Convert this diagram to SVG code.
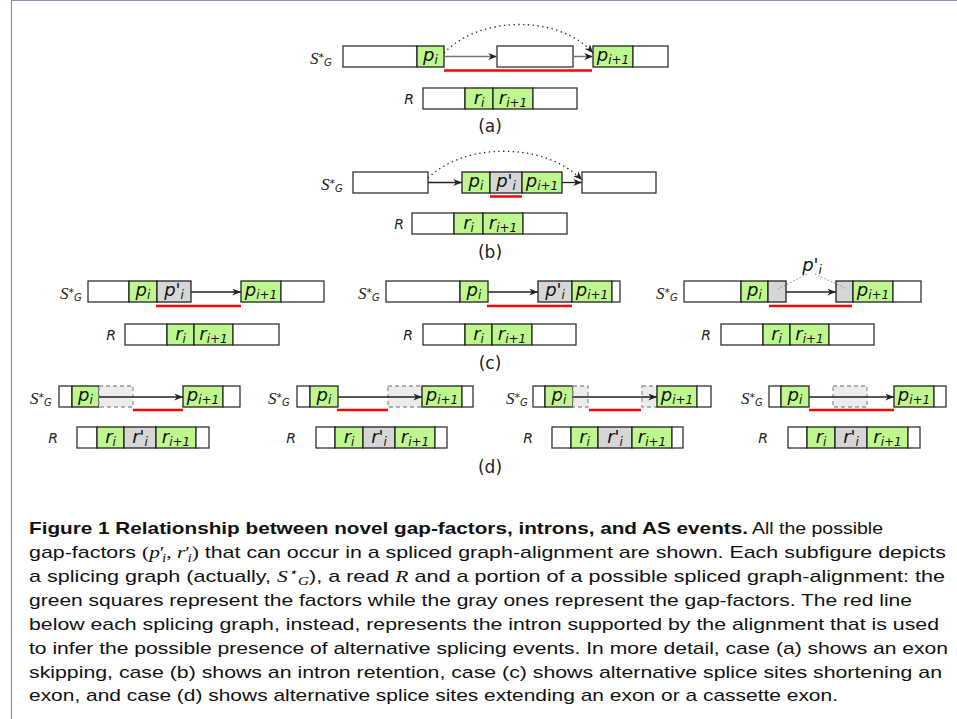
<svg xmlns="http://www.w3.org/2000/svg" width="957" height="719" viewBox="0 0 957 719">
<style>
.w{fill:#fff;stroke:#333;stroke-width:1.3}
.g{fill:#bff78f;stroke:#222;stroke-width:1.3}
.x{fill:#d6d6d6;stroke:#222;stroke-width:1.3}
.dd{fill:#ececec;stroke:#999;stroke-width:1.3;stroke-dasharray:4 3}
.lb{font-family:"DejaVu Sans",sans-serif;font-style:oblique;font-size:18px;fill:#111;text-anchor:middle}
.sb{font-size:12px}
.sg{font-family:"Liberation Serif",serif;font-style:italic;font-size:17px;fill:#222}
.st{font-family:"DejaVu Sans",sans-serif;font-style:normal;font-size:11px}
.sm{font-family:"DejaVu Sans",sans-serif;font-style:oblique;font-size:10px}
.rl{font-family:"DejaVu Sans",sans-serif;font-style:oblique;font-size:14px;fill:#222;text-anchor:middle}
.pl{font-family:"DejaVu Sans",sans-serif;font-size:17px;fill:#222;text-anchor:middle}
.red{stroke:#f00;stroke-width:2.5;fill:none}
.con{stroke:#222;stroke-width:1.3;fill:none;marker-end:url(#ah)}
.cong{stroke:#777;stroke-width:1.5;fill:none;marker-end:url(#ah)}
.dot{stroke:#222;stroke-width:1.3;stroke-dasharray:1.3 3.5;fill:none;marker-end:url(#ah)}
.call{stroke:#888;stroke-width:1;stroke-dasharray:1.5 2;fill:none}
.cap{font-family:"Liberation Sans",sans-serif;font-size:17px;fill:#111}
.capb{font-weight:bold}
.mi{font-family:"Liberation Serif",serif;font-style:italic}
.mt{font-family:"Liberation Serif",serif}
.ms{font-family:"Liberation Serif",serif;font-style:italic;font-size:12px}
.frame{stroke:#7a96c4;stroke-width:1.2;fill:none}
</style>
<defs>
<marker id="ah" viewBox="0 0 10 8" refX="10" refY="4" markerWidth="9" markerHeight="7" markerUnits="userSpaceOnUse" orient="auto"><path d="M0,0 L10,4 L0,8 L3,4 z" fill="#222"/></marker>
</defs>
<rect width="957" height="719" fill="#fff"/>
<path class="frame" d="M11.5,719 V0.5 H957"/>

<!-- (a) -->
<g id="a-label"><text class="sg" x="310" y="64">S<tspan class="st" dy="-3">*</tspan><tspan class="sm" dy="5">G</tspan></text></g>
<g id="a-s1"><rect class="w" x="343" y="46" width="74" height="21"/><rect class="g" x="417" y="46" width="27" height="21"/><text class="lb" x="430.5" y="61">p<tspan class="sb" dy="3">i</tspan></text></g>
<g id="a-s2"><rect class="w" x="497" y="46" width="76" height="21"/></g>
<g id="a-s3"><rect class="g" x="593" y="46" width="40" height="21"/><rect class="w" x="633" y="46" width="35" height="21"/><text class="lb" x="613" y="61">p<tspan class="sb" dy="3">i+1</tspan></text></g>
<g id="a-r"><text class="rl" x="409" y="104">R</text><rect class="w" x="423" y="88" width="42" height="21"/><rect class="g" x="465" y="88" width="28" height="21"/><rect class="g" x="493" y="88" width="40" height="21"/><rect class="w" x="533" y="88" width="44" height="21"/><text class="lb" x="479" y="104">r<tspan class="sb" dy="3">i</tspan></text><text class="lb" x="513" y="104">r<tspan class="sb" dy="3">i+1</tspan></text></g>
<text class="pl" x="490" y="132">(a)</text>

<!-- (b) -->
<g id="b-label"><text class="sg" x="321" y="190">S<tspan class="st" dy="-3">*</tspan><tspan class="sm" dy="5">G</tspan></text></g>
<g id="b-s1"><rect class="w" x="353" y="172" width="75" height="21"/></g>
<g id="b-s2"><rect class="g" x="462" y="172" width="28" height="21"/><rect class="x" x="490" y="172" width="32" height="21"/><rect class="g" x="522" y="172" width="40" height="21"/><text class="lb" x="476" y="187">p<tspan class="sb" dy="3">i</tspan></text><text class="lb" x="506" y="187">p'<tspan class="sb" dy="3">i</tspan></text><text class="lb" x="542" y="187">p<tspan class="sb" dy="3">i+1</tspan></text></g>
<g id="b-s3"><rect class="w" x="582" y="172" width="74" height="21"/></g>
<g id="b-r"><text class="rl" x="399" y="229">R</text><rect class="w" x="412" y="213" width="42" height="21"/><rect class="g" x="454" y="213" width="29" height="21"/><rect class="g" x="483" y="213" width="40" height="21"/><rect class="w" x="523" y="213" width="44" height="21"/><text class="lb" x="468.5" y="229">r<tspan class="sb" dy="3">i</tspan></text><text class="lb" x="503" y="229">r<tspan class="sb" dy="3">i+1</tspan></text></g>
<text class="pl" x="490" y="258">(b)</text>

<!-- (c) left -->
<g id="c1-label"><text class="sg" x="60" y="299">S<tspan class="st" dy="-3">*</tspan><tspan class="sm" dy="5">G</tspan></text></g>
<g id="c1-s1"><rect class="w" x="88" y="281" width="41" height="21"/><rect class="g" x="129" y="281" width="28" height="21"/><rect class="x" x="157" y="281" width="34" height="21"/><text class="lb" x="143" y="296">p<tspan class="sb" dy="3">i</tspan></text><text class="lb" x="174" y="296">p'<tspan class="sb" dy="3">i</tspan></text></g>
<g id="c1-s2"><rect class="g" x="241" y="281" width="40" height="21"/><rect class="w" x="281" y="281" width="43" height="21"/><text class="lb" x="261" y="296">p<tspan class="sb" dy="3">i+1</tspan></text></g>
<g id="c1-r"><text class="rl" x="111" y="340">R</text><rect class="w" x="125" y="324" width="42" height="21"/><rect class="g" x="167" y="324" width="27" height="21"/><rect class="g" x="194" y="324" width="39" height="21"/><rect class="w" x="233" y="324" width="46" height="21"/><text class="lb" x="180.5" y="340">r<tspan class="sb" dy="3">i</tspan></text><text class="lb" x="213.5" y="340">r<tspan class="sb" dy="3">i+1</tspan></text></g>

<!-- (c) middle -->
<g id="c2-label"><text class="sg" x="358" y="299">S<tspan class="st" dy="-3">*</tspan><tspan class="sm" dy="5">G</tspan></text></g>
<g id="c2-s1"><rect class="w" x="386" y="281" width="74" height="21"/><rect class="g" x="460" y="281" width="28" height="21"/><text class="lb" x="474" y="296">p<tspan class="sb" dy="3">i</tspan></text></g>
<g id="c2-s2"><rect class="x" x="538" y="281" width="34" height="21"/><rect class="g" x="572" y="281" width="40" height="21"/><rect class="w" x="612" y="281" width="8" height="21"/><text class="lb" x="555" y="296">p'<tspan class="sb" dy="3">i</tspan></text><text class="lb" x="592" y="296">p<tspan class="sb" dy="3">i+1</tspan></text></g>
<g id="c2-r"><text class="rl" x="408" y="340">R</text><rect class="w" x="423" y="324" width="42" height="21"/><rect class="g" x="465" y="324" width="27" height="21"/><rect class="g" x="492" y="324" width="40" height="21"/><rect class="w" x="532" y="324" width="44" height="21"/><text class="lb" x="478.5" y="340">r<tspan class="sb" dy="3">i</tspan></text><text class="lb" x="512" y="340">r<tspan class="sb" dy="3">i+1</tspan></text></g>
<text class="pl" x="490" y="369">(c)</text>

<!-- (c) right -->
<g id="c3-label"><text class="sg" x="656" y="299">S<tspan class="st" dy="-3">*</tspan><tspan class="sm" dy="5">G</tspan></text></g>
<g id="c3-s1"><rect class="w" x="684" y="281" width="57" height="21"/><rect class="g" x="741" y="281" width="27" height="21"/><rect class="x" x="768" y="281" width="18" height="21"/><text class="lb" x="754.5" y="296">p<tspan class="sb" dy="3">i</tspan></text></g>
<g id="c3-s2"><rect class="x" x="836" y="281" width="17" height="21"/><rect class="g" x="853" y="281" width="40" height="21"/><rect class="w" x="893" y="281" width="28" height="21"/><text class="lb" x="873" y="296">p<tspan class="sb" dy="3">i+1</tspan></text></g>
<g id="c3-callout"><text class="lb" x="812" y="271">p'<tspan class="sb" dy="3">i</tspan></text><path class="call" d="M807,274 L778,289 M815,274 L847,289"/></g>
<g id="c3-r"><text class="rl" x="706" y="340">R</text><rect class="w" x="721" y="324" width="42" height="21"/><rect class="g" x="763" y="324" width="27" height="21"/><rect class="g" x="790" y="324" width="39" height="21"/><rect class="w" x="829" y="324" width="45" height="21"/><text class="lb" x="776.5" y="340">r<tspan class="sb" dy="3">i</tspan></text><text class="lb" x="809.5" y="340">r<tspan class="sb" dy="3">i+1</tspan></text></g>

<!-- (d) 1 -->
<g id="d1-label"><text class="sg" x="30" y="404">S<tspan class="st" dy="-3">*</tspan><tspan class="sm" dy="5">G</tspan></text></g>
<g id="d1-s1"><rect class="w" x="59" y="386" width="13" height="21"/><rect class="g" x="72" y="386" width="27" height="21"/><rect class="dd" x="99" y="386" width="34" height="21"/><text class="lb" x="85.5" y="401">p<tspan class="sb" dy="3">i</tspan></text></g>
<g id="d1-s2"><rect class="g" x="183" y="386" width="40" height="21"/><rect class="w" x="223" y="386" width="17" height="21"/><text class="lb" x="203" y="401">p<tspan class="sb" dy="3">i+1</tspan></text></g>
<g id="d1-r"><text class="rl" x="53" y="443">R</text><rect class="w" x="77" y="427" width="20" height="21"/><rect class="g" x="97" y="427" width="27" height="21"/><rect class="x" x="124" y="427" width="32" height="21"/><rect class="g" x="156" y="427" width="40" height="21"/><rect class="w" x="196" y="427" width="13" height="21"/><text class="lb" x="110.5" y="443">r<tspan class="sb" dy="3">i</tspan></text><text class="lb" x="140" y="443">r'<tspan class="sb" dy="3">i</tspan></text><text class="lb" x="176" y="443">r<tspan class="sb" dy="3">i+1</tspan></text></g>

<!-- (d) 2 -->
<g id="d2-label"><text class="sg" x="268" y="404">S<tspan class="st" dy="-3">*</tspan><tspan class="sm" dy="5">G</tspan></text></g>
<g id="d2-s1"><rect class="w" x="297" y="386" width="13" height="21"/><rect class="g" x="310" y="386" width="28" height="21"/><text class="lb" x="324" y="401">p<tspan class="sb" dy="3">i</tspan></text></g>
<g id="d2-s2"><rect class="dd" x="388" y="386" width="34" height="21"/><rect class="g" x="422" y="386" width="40" height="21"/><rect class="w" x="462" y="386" width="11" height="21"/><text class="lb" x="442" y="401">p<tspan class="sb" dy="3">i+1</tspan></text></g>
<g id="d2-r"><text class="rl" x="291" y="443">R</text><rect class="w" x="316" y="427" width="19" height="21"/><rect class="g" x="335" y="427" width="28" height="21"/><rect class="x" x="363" y="427" width="32" height="21"/><rect class="g" x="395" y="427" width="40" height="21"/><rect class="w" x="435" y="427" width="12" height="21"/><text class="lb" x="349" y="443">r<tspan class="sb" dy="3">i</tspan></text><text class="lb" x="379" y="443">r'<tspan class="sb" dy="3">i</tspan></text><text class="lb" x="415" y="443">r<tspan class="sb" dy="3">i+1</tspan></text></g>

<!-- (d) 3 -->
<g id="d3-label"><text class="sg" x="506" y="404">S<tspan class="st" dy="-3">*</tspan><tspan class="sm" dy="5">G</tspan></text></g>
<g id="d3-s1"><rect class="w" x="533" y="386" width="12" height="21"/><rect class="g" x="545" y="386" width="28" height="21"/><rect class="dd" x="573" y="386" width="15" height="21"/><text class="lb" x="559" y="401">p<tspan class="sb" dy="3">i</tspan></text></g>
<g id="d3-s2"><rect class="dd" x="642" y="386" width="15" height="21"/><rect class="g" x="657" y="386" width="40" height="21"/><rect class="w" x="697" y="386" width="14" height="21"/><text class="lb" x="677" y="401">p<tspan class="sb" dy="3">i+1</tspan></text></g>
<g id="d3-r"><text class="rl" x="528" y="443">R</text><rect class="w" x="552" y="427" width="19" height="21"/><rect class="g" x="571" y="427" width="27" height="21"/><rect class="x" x="598" y="427" width="34" height="21"/><rect class="g" x="632" y="427" width="40" height="21"/><rect class="w" x="672" y="427" width="11" height="21"/><text class="lb" x="584.5" y="443">r<tspan class="sb" dy="3">i</tspan></text><text class="lb" x="615" y="443">r'<tspan class="sb" dy="3">i</tspan></text><text class="lb" x="652" y="443">r<tspan class="sb" dy="3">i+1</tspan></text></g>
<text class="pl" x="490" y="473">(d)</text>

<!-- (d) 4 -->
<g id="d4-label"><text class="sg" x="741" y="404">S<tspan class="st" dy="-3">*</tspan><tspan class="sm" dy="5">G</tspan></text></g>
<g id="d4-s1"><rect class="w" x="769" y="386" width="12" height="21"/><rect class="g" x="781" y="386" width="28" height="21"/><text class="lb" x="795" y="401">p<tspan class="sb" dy="3">i</tspan></text></g>
<g id="d4-gap"><rect class="dd" x="833" y="386" width="34" height="21"/></g>
<g id="d4-s2"><rect class="g" x="894" y="386" width="40" height="21"/><rect class="w" x="934" y="386" width="12" height="21"/><text class="lb" x="914" y="401">p<tspan class="sb" dy="3">i+1</tspan></text></g>
<g id="d4-r"><text class="rl" x="763" y="443">R</text><rect class="w" x="788" y="427" width="19" height="21"/><rect class="g" x="807" y="427" width="28" height="21"/><rect class="x" x="835" y="427" width="32" height="21"/><rect class="g" x="867" y="427" width="41" height="21"/><rect class="w" x="908" y="427" width="12" height="21"/><text class="lb" x="821" y="443">r<tspan class="sb" dy="3">i</tspan></text><text class="lb" x="851" y="443">r'<tspan class="sb" dy="3">i</tspan></text><text class="lb" x="887.5" y="443">r<tspan class="sb" dy="3">i+1</tspan></text></g>

<!-- connectors -->
<g id="connectors">
<path class="cong" d="M444,56.5 H497"/>
<path class="cong" d="M573,56.5 H593"/>
<path class="dot" d="M444,53 C480,15 560,15 593,53"/>
<path class="red" d="M444,70.5 H592"/>
<path class="con" d="M428,182.5 H462"/>
<path class="con" d="M562,182.5 H582"/>
<path class="dot" d="M428,178 C465,142 545,142 582,180"/>
<path class="red" d="M490,196.5 H522"/>
<path class="con" d="M191,292 H241"/>
<path class="red" d="M156,306 H241"/>
<path class="con" d="M488,292 H538"/>
<path class="red" d="M487,306 H572"/>
<path class="con" d="M786,292 H836"/>
<path class="red" d="M769,306 H852"/>
<path class="con" d="M99,397 H183"/>
<path class="red" d="M133,410 H183"/>
<path class="con" d="M338,397 H422"/>
<path class="red" d="M337,410 H388"/>
<path class="con" d="M573,397 H657"/>
<path class="red" d="M589,410 H641"/>
<path class="con" d="M809,397 H894"/>
<path class="red" d="M809,410 H894"/>
</g>

<!-- caption -->
<g id="caption" class="cap">
<text x="29" y="534" class="capb" textLength="719" lengthAdjust="spacingAndGlyphs">Figure 1 Relationship between novel gap-factors, introns, and AS events.</text>
<text x="752" y="534" textLength="131" lengthAdjust="spacingAndGlyphs">All the possible</text>
<text x="29" y="558" textLength="917" lengthAdjust="spacingAndGlyphs">gap-factors <tspan class="mt">(</tspan><tspan class="mi">p</tspan><tspan class="mt">′</tspan><tspan class="ms" dy="4" dx="-2">i</tspan><tspan class="mt" dy="-4">, </tspan><tspan class="mi">r</tspan><tspan class="mt">′</tspan><tspan class="ms" dy="4" dx="-2">i</tspan><tspan class="mt" dy="-4">)</tspan> that can occur in a spliced graph-alignment are shown. Each subfigure depicts</text>
<text x="29" y="582" textLength="916" lengthAdjust="spacingAndGlyphs">a splicing graph (actually, <tspan class="mi">S</tspan><tspan class="ms" dy="-6">⋆</tspan><tspan class="ms" dy="9">G</tspan><tspan dy="-3">), a read </tspan><tspan class="mi">R</tspan> and a portion of a possible spliced graph-alignment: the</text>
<text x="29" y="606" textLength="883" lengthAdjust="spacingAndGlyphs">green squares represent the factors while the gray ones represent the gap-factors. The red line</text>
<text x="29" y="630" textLength="910" lengthAdjust="spacingAndGlyphs">below each splicing graph, instead, represents the intron supported by the alignment that is used</text>
<text x="29" y="654" textLength="919" lengthAdjust="spacingAndGlyphs">to infer the possible presence of alternative splicing events. In more detail, case (a) shows an exon</text>
<text x="29" y="678" textLength="913" lengthAdjust="spacingAndGlyphs">skipping, case (b) shows an intron retention, case (c) shows alternative splice sites shortening an</text>
<text x="29" y="701" textLength="809" lengthAdjust="spacingAndGlyphs">exon, and case (d) shows alternative splice sites extending an exon or a cassette exon.</text>
</g>
</svg>
